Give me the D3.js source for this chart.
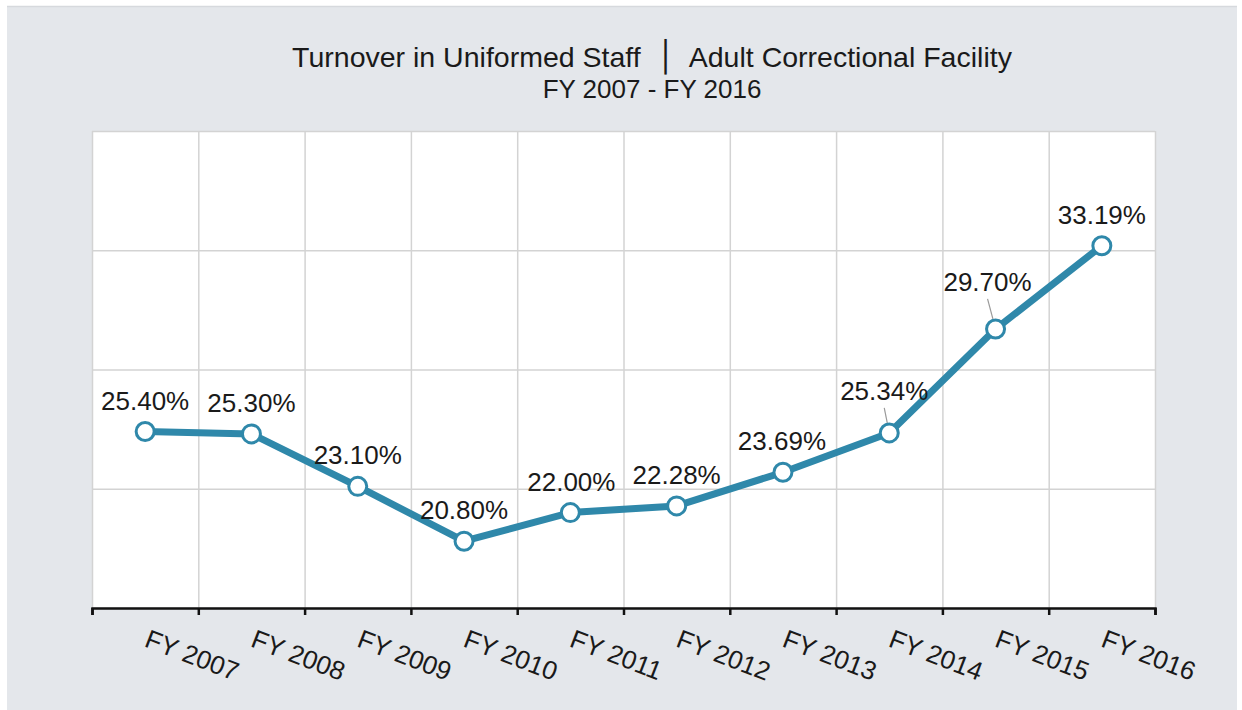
<!DOCTYPE html>
<html>
<head>
<meta charset="utf-8">
<script src="https://cdn.jsdelivr.net/npm/d3@7"></script>
<style>
  html, body { margin: 0; padding: 0; background: #ffffff; }
  svg { display: block; font-family: "Liberation Sans", Arial, sans-serif; }
</style>
</head>
<body>
<svg id="chart" width="1242" height="710"></svg>
<script>
// Fiscal years on the category axis
const categories = ["FY 2007", "FY 2008", "FY 2009", "FY 2010", "FY 2011",
                    "FY 2012", "FY 2013", "FY 2014", "FY 2015", "FY 2016"];
// Turnover rate among uniformed staff, percent
const turnover = [25.40, 25.30, 23.10, 20.80, 22.00, 22.28, 23.69, 25.34, 29.70, 33.19];
// Value-axis gridline positions (percent)
const yTicks = [18, 23, 28, 33, 38];
// Data labels as printed
const valueLabels = turnover.map(v => v.toFixed(2) + "%");
const titleLeft = "Turnover in Uniformed Staff";
const titleRight = "Adult Correctional Facility";
const subtitle = "FY 2007 - FY 2016";

// Label placement: lift above marker, sideways shift, and whether a leader line is drawn
const labelLift  = [22, 22, 22, 22, 22, 22, 22, 33, 38, 22];
const labelShift = [0, 0, 0, 0, 1, 0, -1, -5, -8, 0];
const labelLeader = [false, false, false, false, false, false, false, true, true, false];

const svg = d3.select("#chart");
const W = 1242, H = 710;
const plot = { left: 92, right: 1155, top: 131, bottom: 608 };
const lineColor = "#2f88aa";

// outer panel
svg.append("rect").attr("x", 7).attr("y", 6).attr("width", 1230).attr("height", H - 6)
  .attr("fill", "#e4e7eb");
svg.append("line").attr("x1", 7).attr("x2", 1237).attr("y1", 6.5).attr("y2", 6.5)
  .attr("stroke", "#d6d9dd").attr("stroke-width", 1.5);

// plot area
svg.append("rect").attr("x", plot.left).attr("y", plot.top)
  .attr("width", plot.right - plot.left).attr("height", plot.bottom - plot.top)
  .attr("fill", "#ffffff");

const x = d3.scaleBand().domain(categories).range([plot.left, plot.right]).padding(0);
const y = d3.scaleLinear().domain([yTicks[0], yTicks[yTicks.length - 1]]).range([plot.bottom, plot.top]);
const slot = d3.scaleLinear().domain([0, categories.length]).range([plot.left, plot.right]);

// horizontal gridlines
svg.append("g")
  .attr("transform", `translate(${plot.left},0)`)
  .call(d3.axisLeft(y).tickValues(yTicks).tickSize(-(plot.right - plot.left)).tickFormat(""))
  .call(g => g.select(".domain").remove())
  .call(g => g.selectAll(".tick line").attr("stroke", "#d3d3d3").attr("stroke-width", 1.5));

// vertical gridlines at category boundaries
svg.append("g")
  .attr("transform", `translate(0,${plot.bottom})`)
  .call(d3.axisBottom(slot).ticks(categories.length).tickSize(-(plot.bottom - plot.top)).tickFormat(""))
  .call(g => g.select(".domain").remove())
  .call(g => g.selectAll(".tick line").attr("stroke", "#d3d3d3").attr("stroke-width", 1.5));

// category axis with boundary tick marks
svg.append("g")
  .attr("transform", `translate(0,${plot.bottom})`)
  .call(d3.axisBottom(slot).ticks(categories.length).tickSize(7).tickSizeOuter(7).tickFormat(""))
  .call(g => g.select(".domain").attr("stroke", "#111").attr("stroke-width", 2.5))
  .call(g => g.selectAll(".tick line").attr("stroke", "#111").attr("stroke-width", 2.5));

// rotated category labels
svg.append("g").selectAll("text")
  .data(categories)
  .join("text")
  .attr("transform", d => `translate(${x(d) + x.bandwidth() / 2 - 2},${plot.bottom + 38}) rotate(21)`)
  .attr("text-anchor", "start")
  .attr("font-size", 26)
  .attr("fill", "#1a1a1a")
  .text(d => d);

const cx = (d, i) => x(categories[i]) + x.bandwidth() / 2;
const cy = d => y(d);

// leader lines
svg.append("g").selectAll("line")
  .data(turnover.map((v, i) => ({ v, i })).filter(d => labelLeader[d.i]))
  .join("line")
  .attr("x1", d => cx(d.v, d.i) + labelShift[d.i])
  .attr("y1", d => cy(d.v) - labelLift[d.i] + 8)
  .attr("x2", d => cx(d.v, d.i))
  .attr("y2", d => cy(d.v))
  .attr("stroke", "#9a9a9a").attr("stroke-width", 1.2);

// series line
svg.append("path")
  .datum(turnover)
  .attr("fill", "none")
  .attr("stroke", lineColor)
  .attr("stroke-width", 7)
  .attr("stroke-linejoin", "round")
  .attr("d", d3.line().x((d, i) => cx(d, i)).y(d => cy(d)));

// markers
svg.append("g").selectAll("circle")
  .data(turnover)
  .join("circle")
  .attr("cx", (d, i) => cx(d, i))
  .attr("cy", d => cy(d))
  .attr("r", 9)
  .attr("fill", "#ffffff")
  .attr("stroke", lineColor)
  .attr("stroke-width", 3);

// data labels
svg.append("g").selectAll("text")
  .data(turnover)
  .join("text")
  .attr("x", (d, i) => cx(d, i) + labelShift[i])
  .attr("y", (d, i) => cy(d) - labelLift[i])
  .attr("text-anchor", "middle")
  .attr("font-size", 26)
  .attr("fill", "#1a1a1a")
  .text((d, i) => valueLabels[i]);

// title: two halves separated by a vertical rule character
const title = svg.append("text")
  .attr("x", 652).attr("y", 67)
  .attr("text-anchor", "middle")
  .attr("font-size", 28.5)
  .attr("fill", "#1a1a1a")
  .style("white-space", "pre");
title.append("tspan").text(titleLeft + "  ");
title.append("tspan").attr("font-family", "DejaVu Sans").attr("font-size", 30).text("\u2502");
title.append("tspan").text("  " + titleRight);

svg.append("text")
  .attr("x", 652).attr("y", 98)
  .attr("text-anchor", "middle")
  .attr("font-size", 26)
  .attr("fill", "#1a1a1a")
  .text(subtitle);
</script>
</body>
</html>
